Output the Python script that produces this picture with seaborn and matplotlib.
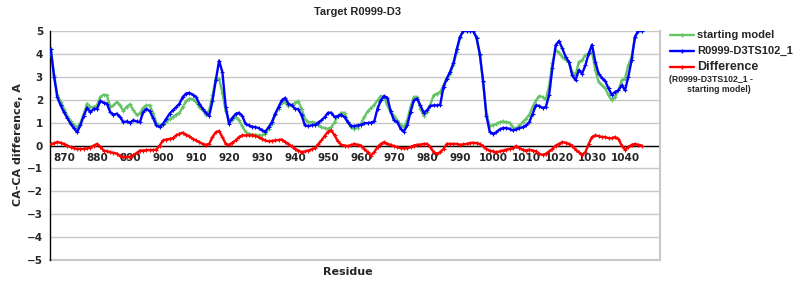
import matplotlib
matplotlib.use("Agg")
import matplotlib.pyplot as plt
import seaborn as sns
import pandas as pd
from matplotlib.lines import Line2D

residues = list(range(866, 1046))

starting_model = [
    4.2, 3.1, 2.2, 1.9, 1.6, 1.3, 1.05, 0.9, 0.78, 1.0,
    1.39, 1.83, 1.68, 1.68, 1.75, 2.12, 2.22, 2.19, 1.7, 1.75,
    1.9, 1.75, 1.5, 1.7, 1.8, 1.55, 1.35, 1.4, 1.65, 1.75,
    1.75, 1.4, 1.0, 0.88, 0.88, 1.02, 1.17, 1.24, 1.35, 1.43,
    1.68, 1.93, 2.05, 2.02, 1.9, 1.68, 1.54, 1.35, 1.54, 2.19,
    2.92, 2.92, 2.3, 1.5, 1.1, 1.1, 1.24, 1.1, 0.85, 0.6,
    0.51, 0.48, 0.47, 0.44, 0.44, 0.51, 0.73, 0.95, 1.35, 1.61,
    1.87, 1.9, 1.71, 1.75, 1.87, 1.93, 1.61, 1.17, 1.02, 1.02,
    1.0, 0.9, 0.8, 0.76, 0.73, 0.8, 1.02, 1.29, 1.43, 1.43,
    1.02, 0.8, 0.73, 0.78, 0.95, 1.25, 1.49, 1.64, 1.78, 1.97,
    2.16, 2.12, 1.75, 1.43, 1.29, 1.1, 0.9, 0.8, 1.1, 1.68,
    2.12, 2.12, 1.61, 1.29, 1.46, 1.78, 2.19, 2.27, 2.34, 2.63,
    2.95, 3.14, 3.5, 4.1, 4.7, 5.0, 5.0, 5.0, 5.0, 4.75,
    3.95, 2.78, 1.39, 0.85, 0.88, 0.95, 1.02, 1.05, 1.02, 1.0,
    0.8, 0.73, 0.88, 1.02, 1.17, 1.35, 1.68, 1.97, 2.16, 2.12,
    2.0, 2.6, 3.6, 4.17, 4.06, 3.87, 3.73, 3.65, 3.22, 3.07,
    3.65, 3.73, 3.95, 3.98, 4.09, 3.29, 2.78, 2.63, 2.49, 2.19,
    1.97, 2.12, 2.41, 2.85, 2.92, 3.51, 3.87, 4.68, 5.0, 5.0,
]

model_ts102 = [
    4.2, 3.0, 2.1, 1.75, 1.45, 1.2, 0.95, 0.75, 0.58, 0.9,
    1.3, 1.65, 1.45, 1.6, 1.6, 1.95, 1.87, 1.83, 1.46, 1.35,
    1.39, 1.24, 1.02, 1.05, 1.0, 1.1, 1.05, 1.02, 1.46, 1.6,
    1.5, 1.2, 0.88, 0.8, 0.95, 1.17, 1.39, 1.54, 1.68, 1.83,
    2.12, 2.27, 2.3, 2.22, 2.12, 1.83, 1.61, 1.43, 1.3, 1.95,
    2.85, 3.7, 3.2, 1.7, 0.95, 1.2, 1.38, 1.43, 1.3, 0.95,
    0.88, 0.82, 0.8, 0.76, 0.66, 0.61, 0.8, 1.02, 1.39, 1.68,
    1.97, 2.08, 1.83, 1.75, 1.61, 1.58, 1.32, 0.88, 0.85, 0.88,
    0.9, 1.0, 1.1, 1.24, 1.43, 1.43, 1.24, 1.29, 1.35, 1.24,
    1.02, 0.85, 0.85, 0.88, 0.9, 0.97, 0.98, 1.0, 1.05, 1.61,
    1.97, 2.16, 2.08, 1.49, 1.1, 1.02, 0.73, 0.61, 0.88, 1.46,
    1.97, 2.05, 1.75, 1.43, 1.54, 1.73, 1.75, 1.75, 1.78, 2.56,
    2.92, 3.22, 3.6, 4.2, 4.75, 5.0, 5.0, 5.0, 5.0, 4.7,
    4.0, 2.8, 1.3, 0.6, 0.51, 0.58, 0.7, 0.76, 0.76, 0.73,
    0.66, 0.7, 0.76, 0.8, 0.88, 1.02, 1.39, 1.75, 1.73, 1.64,
    1.68, 2.2, 3.4, 4.39, 4.56, 4.24, 3.87, 3.65, 3.07, 2.85,
    3.29, 3.14, 3.51, 4.02, 4.4, 3.65, 3.14, 2.95, 2.81, 2.49,
    2.22, 2.34, 2.41, 2.63, 2.41, 3.0, 3.73, 4.75, 5.0, 5.0,
]

difference = [
    0.05, 0.1, 0.15, 0.12, 0.07, 0.0, -0.07, -0.12, -0.15, -0.15,
    -0.15, -0.12, -0.1, 0.0, 0.07, -0.05, -0.22, -0.25, -0.29, -0.32,
    -0.35, -0.45, -0.5, -0.5, -0.5, -0.42, -0.33, -0.22, -0.22, -0.2,
    -0.2, -0.2, -0.18, 0.0, 0.22, 0.26, 0.29, 0.32, 0.44, 0.51,
    0.56, 0.47, 0.4, 0.29, 0.22, 0.15, 0.07, 0.03, 0.07, 0.37,
    0.58, 0.63, 0.37, 0.07, 0.03, 0.12, 0.22, 0.37, 0.44, 0.44,
    0.44, 0.44, 0.42, 0.36, 0.29, 0.22, 0.18, 0.2, 0.22, 0.24,
    0.26, 0.16, 0.07, -0.04, -0.15, -0.22, -0.29, -0.26, -0.22, -0.17,
    -0.12, 0.05, 0.22, 0.42, 0.61, 0.66, 0.44, 0.18, 0.03, 0.0,
    -0.03, 0.02, 0.07, 0.03, 0.0, -0.15, -0.29, -0.44, -0.29, -0.07,
    0.07, 0.15, 0.07, 0.03, -0.03, -0.07, -0.12, -0.12, -0.12, -0.07,
    0.0, 0.03, 0.04, 0.07, 0.07, -0.07, -0.29, -0.36, -0.29, -0.15,
    0.07, 0.07, 0.07, 0.07, 0.03, 0.05, 0.07, 0.1, 0.12, 0.1,
    0.07, -0.03, -0.15, -0.22, -0.26, -0.29, -0.26, -0.22, -0.18, -0.15,
    -0.12, -0.03, -0.12, -0.18, -0.22, -0.18, -0.22, -0.26, -0.36, -0.41,
    -0.36, -0.26, -0.15, 0.0, 0.07, 0.15, 0.12, 0.07, 0.0, -0.18,
    -0.29, -0.41, -0.29, 0.07, 0.37, 0.44, 0.41, 0.37, 0.37, 0.32,
    0.32, 0.37, 0.29, 0.0, -0.18, -0.07, 0.03, 0.07, 0.03, 0.0,
]

x_ticks = list(range(870, 1041, 10))
y_ticks = list(range(-5, 6))

series_names = ["starting model", "R0999-D3TS102_1", "Difference"]
colors = ["#66c466", "#0000ff", "#ff0000"]

sns.set_style("white")
plt.rcParams["font.family"] = ["DejaVu Sans"]

fig = plt.figure(figsize=(8, 3), dpi=100)
ax = fig.add_axes([50 / 800, 1 - 260 / 300, 610 / 800, 229 / 300])

df = pd.DataFrame({
    "Residue": residues * 3,
    "value": starting_model + model_ts102 + difference,
    "series": [series_names[0]] * len(residues)
    + [series_names[1]] * len(residues)
    + [series_names[2]] * len(residues),
})

for name, col, z in zip(series_names, colors, [3, 4, 5]):
    sub = df[df["series"] == name]
    sns.lineplot(data=sub, x="Residue", y="value", ax=ax, color=col,
                 linewidth=1.7, marker="+", markersize=3, markeredgewidth=0.8,
                 markeredgecolor=col, legend=False, zorder=z, estimator=None)

ax.set_xlim(865.76, 1050.6)
ax.set_ylim(-5, 5)
ax.set_yticks(y_ticks)
ax.set_xticks(x_ticks)
ax.grid(axis="y", color="#c8c8c8", linewidth=1.0)
ax.grid(axis="x", visible=False)
ax.axhline(0, color="black", linewidth=1.0, zorder=2)
ax.axhline(-5, color="#c8c8c8", linewidth=1.5, zorder=2, clip_on=False)

ax.spines["left"].set_color("black")
ax.spines["left"].set_linewidth(1.0)
ax.spines["right"].set_color("#c8c8c8")
ax.spines["right"].set_linewidth(1.5)
ax.spines["top"].set_visible(False)
ax.spines["bottom"].set_position(("data", 0))
ax.spines["bottom"].set_visible(False)

ax.tick_params(axis="x", direction="out", length=4, color="#c0c0c0",
               pad=1.5, labelsize=7.5)
ax.tick_params(axis="y", length=0, pad=5, labelsize=7.5)
for lab in ax.get_xticklabels() + ax.get_yticklabels():
    lab.set_fontweight("bold")

ax.set_xlabel("")
ax.set_ylabel("")
fig.text(18 / 800, 1 - 145 / 300, "CA-CA difference, A", rotation=90,
         ha="center", va="center", fontsize=8, fontweight="bold")
fig.text(348 / 800, 1 - 272 / 300, "Residue", ha="center", va="center",
         fontsize=8, fontweight="bold")
fig.text(357 / 800, 1 - 12 / 300, "Target R0999-D3", ha="center",
         va="center", fontsize=8, fontweight="bold",
         family=["Liberation Sans"])

# legend
leg_y = [35, 51, 67]
for name, col, yy in zip(series_names, colors, leg_y):
    fy = 1 - yy / 300
    fig.add_artist(Line2D([670 / 800, 694 / 800], [fy, fy], color=col,
                          linewidth=1.7, transform=fig.transFigure))
    fig.add_artist(Line2D([682 / 800], [fy], color=col, marker="+",
                          markersize=3, transform=fig.transFigure))
    fig.text(697 / 800, fy, name, ha="left", va="center",
             fontsize=8 if name != "Difference" else 9,
             fontweight="bold", family=["Liberation Sans"])
fig.text(669 / 800, 1 - 79 / 300, "(R0999-D3TS102_1 -", ha="left",
         va="center", fontsize=6.3, fontweight="bold",
         family=["Liberation Sans"])
fig.text(687 / 800, 1 - 89 / 300, "starting model)", ha="left",
         va="center", fontsize=6.3, fontweight="bold",
         family=["Liberation Sans"])

fig.savefig("out.png", dpi=100)
